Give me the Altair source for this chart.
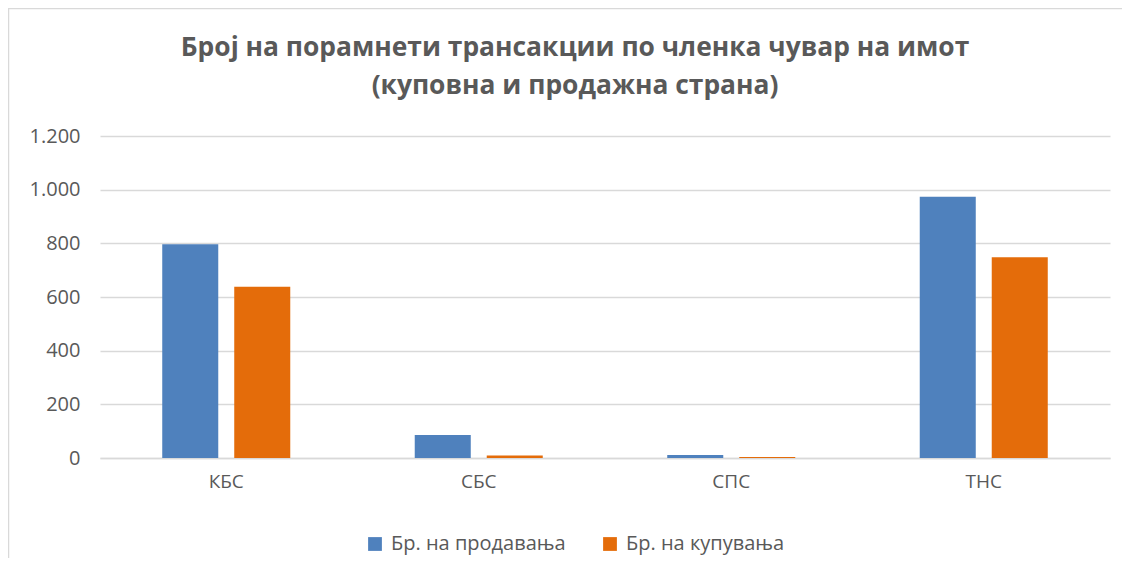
import altair as alt
import pandas as pd

categories = ["КБС", "СБС", "СПС", "ТНС"]
series = ["Бр. на продавања", "Бр. на купувања"]
sales = [797, 86, 11, 974]
buys = [638, 9, 4, 748]
colors = ["#4F81BD", "#E46C0A"]

rows = []
for c, s, b in zip(categories, sales, buys):
    rows.append({"category": c, "series": series[0], "value": s})
    rows.append({"category": c, "series": series[1], "value": b})
df = pd.DataFrame(rows)

FONT = "Open Sans"
GREY = "#595959"

bars = alt.Chart(df).mark_bar().encode(
    x=alt.X("category:N", sort=categories, title=None,
            scale=alt.Scale(paddingInner=0.493, paddingOuter=0.2465),
            axis=alt.Axis(labelAngle=0, ticks=False, domainColor="#D9D9D9",
                          domainWidth=1.5, labelPadding=14, labelFontSize=19,
                          labelColor=GREY, labelFont=FONT)),
    xOffset=alt.XOffset("series:N", sort=series,
                        scale=alt.Scale(paddingInner=0.222, paddingOuter=0)),
    y=alt.Y("value:Q", title=None,
            scale=alt.Scale(domain=[0, 1200], nice=False),
            axis=alt.Axis(values=[0, 200, 400, 600, 800, 1000, 1200],
                          labelExpr="replace(format(datum.value, ','), ',', '.')",
                          domain=False, ticks=False, gridColor="#D9D9D9",
                          gridWidth=1.5, labelPadding=20, labelFontSize=20,
                          labelColor=GREY, labelFont=FONT)),
    color=alt.Color("series:N", sort=series,
                    scale=alt.Scale(domain=series, range=colors),
                    legend=alt.Legend(title=None, orient="none", direction="horizontal",
                                      legendX=265, legendY=398, symbolType="square",
                                      symbolSize=190, symbolStrokeWidth=0,
                                      labelFontSize=20, labelColor=GREY, labelFont=FONT,
                                      labelLimit=400, labelOffset=6, columnPadding=34)),
)

frame = alt.Chart(alt.Data(values=[{"a": 1}])).mark_rule(color="#D9D9D9", strokeWidth=1.5).encode(
    x=alt.value(-92), x2=alt.value(1030), y=alt.value(-127.5)
)
frame2 = alt.Chart(alt.Data(values=[{"a": 1}])).mark_rule(color="#D9D9D9", strokeWidth=1.5).encode(
    x=alt.value(-91.5), y=alt.value(-128), y2=alt.value(440)
)

chart = alt.layer(bars, frame, frame2).properties(
    width=1010, height=322,
    autosize=alt.AutoSizeParams(type="none"),
    padding={"left": 92, "top": 128, "right": 12, "bottom": 100},
    title=alt.TitleParams(
        ["Број на порамнети трансакции по членка чувар на имот",
         "(куповна и продажна страна)"],
        anchor="middle", dx=-30, dy=124, offset=32, fontSize=26.4, font=FONT,
        fontWeight="bold", color=GREY, lineHeight=38),
).configure_view(stroke=None)

chart.save("out.html", embed_options={"renderer": "svg", "actions": False})
